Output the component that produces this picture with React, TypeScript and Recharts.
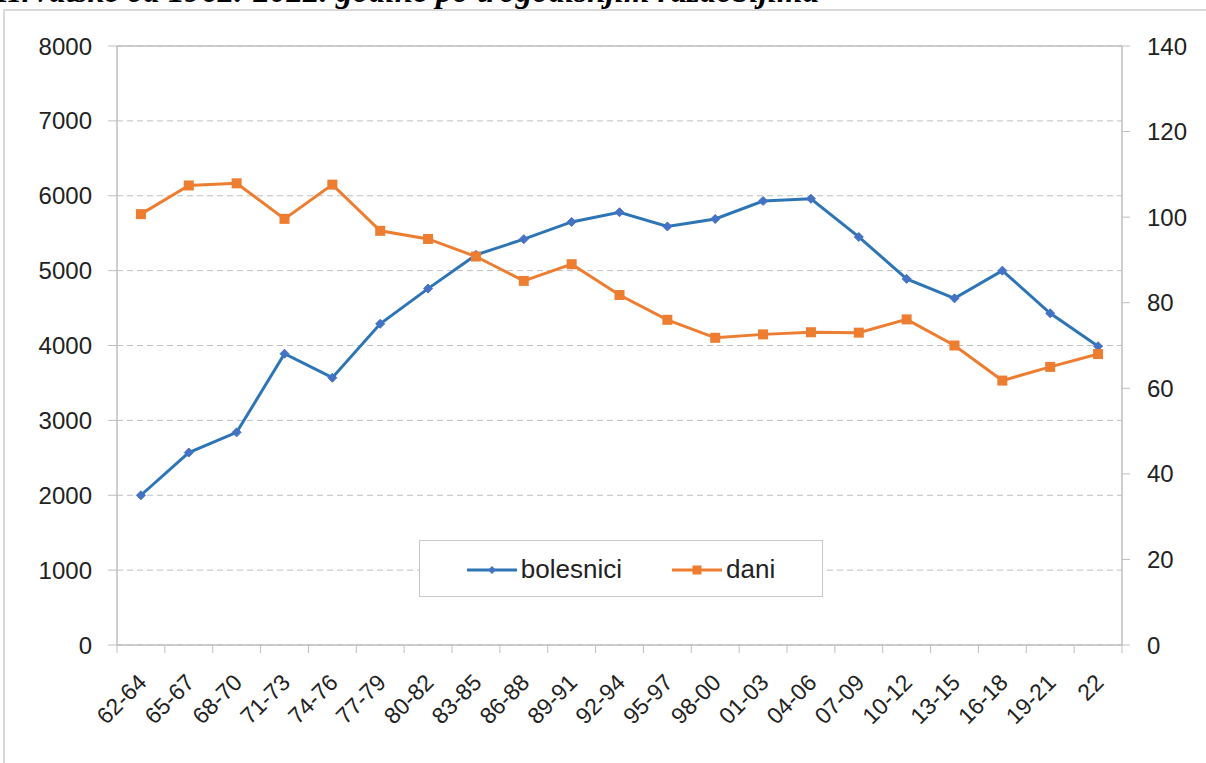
import React from "react";
import { LineChart, Line, XAxis, YAxis, CartesianGrid, Legend, ReferenceLine } from "recharts";

// razdoblja (trogodišta) i vrijednosti očitane s grafa
const periods = [
  "62-64", "65-67", "68-70", "71-73", "74-76", "77-79", "80-82", "83-85", "86-88", "89-91",
  "92-94", "95-97", "98-00", "01-03", "04-06", "07-09", "10-12", "13-15", "16-18", "19-21", "22",
];
const bolesnici = [
  2000, 2570, 2840, 3890, 3570, 4290, 4760, 5210, 5420, 5650,
  5780, 5590, 5690, 5930, 5960, 5450, 4890, 4630, 5000, 4430, 3990,
];
const dani = [
  100.7, 107.4, 107.9, 99.6, 107.6, 96.8, 94.9, 90.8, 85.1, 89.0,
  81.8, 76.0, 71.8, 72.6, 73.1, 73.0, 76.1, 70.0, 61.8, 65.0, 68.0,
];
const leftTicks = [0, 1000, 2000, 3000, 4000, 5000, 6000, 7000, 8000];
const rightTicks = [0, 20, 40, 60, 80, 100, 120, 140];

const data = periods.map((period, i) => ({ period, bolesnici: bolesnici[i], dani: dani[i] }));

const W = 1206;
const H = 763;
const PLOT_W = 1005;
const HALF = PLOT_W / periods.length / 2;
const BLUE = "#2E75B6";
const ORANGE = "#ED7D31";
const GRID = "#bfbfbf";
const FONT = "'Liberation Sans', Arial, sans-serif";

function PeriodTick(props: any) {
  const { x, y, payload, index } = props;
  const tx = x + 7;
  const ty = y + 39;
  return (
    <g>
      <line x1={x - HALF} x2={x - HALF} y1={y} y2={y + 8} stroke={GRID} />
      {index === periods.length - 1 && (
        <line x1={x + HALF} x2={x + HALF} y1={y} y2={y + 8} stroke={GRID} />
      )}
      <text
        x={tx}
        y={ty}
        transform={`rotate(-45, ${tx}, ${ty})`}
        textAnchor="end"
        fontSize={23}
        fontFamily={FONT}
        fill="#222"
      >
        {payload.value}
      </text>
    </g>
  );
}

function DiamondDot(props: any) {
  const { cx, cy, index } = props;
  if (cx == null || cy == null) return <g key={`b-${index}`} />;
  const r = 4.5;
  return (
    <path
      key={`b-${index}`}
      d={`M${cx},${cy - r}L${cx + r},${cy}L${cx},${cy + r}L${cx - r},${cy}Z`}
      fill="#4472C4"
      stroke="#4472C4"
      strokeWidth={1}
    />
  );
}

function SquareDot(props: any) {
  const { cx, cy, index } = props;
  if (cx == null || cy == null) return <g key={`d-${index}`} />;
  return <rect key={`d-${index}`} x={cx - 5} y={cy - 5} width={10} height={10} fill={ORANGE} />;
}

function LegendBox() {
  const item = (label: string, color: string, marker: React.ReactNode) => (
    <div style={{ display: "flex", alignItems: "center" }}>
      <svg width={50} height={12} style={{ marginRight: 4 }}>
        <line x1={0} x2={50} y1={6} y2={6} stroke={color} strokeWidth={3} />
        {marker}
      </svg>
      <span>{label}</span>
    </div>
  );
  return (
    <div
      style={{
        width: "100%",
        height: "100%",
        boxSizing: "border-box",
        border: "1.5px solid #c8c8c8",
        background: "#fff",
        display: "flex",
        alignItems: "center",
        justifyContent: "center",
        gap: 50,
        fontFamily: FONT,
        fontSize: 26,
        color: "#222",
        paddingTop: 2,
      }}
    >
      {item("bolesnici", BLUE, <path d="M25,2L29,6L25,10L21,6Z" fill="#4472C4" />)}
      {item("dani", ORANGE, <rect x={20.5} y={1.5} width={9} height={9} fill={ORANGE} />)}
    </div>
  );
}

export default function App() {
  return (
    <div style={{ position: "absolute", left: 0, top: 0, width: W, height: H, overflow: "hidden", background: "#fff" }}>
      <div
        style={{
          position: "absolute",
          left: -4,
          top: -26,
          fontFamily: "'Liberation Serif', 'Times New Roman', serif",
          fontWeight: "bold",
          fontStyle: "italic",
          fontSize: 33,
          whiteSpace: "nowrap",
          color: "#000",
          lineHeight: "34px",
        }}
      >
        Hrvatske od 1962.-2022. godine po trogodišnjim razdobljima
      </div>
      <div
        style={{
          position: "absolute",
          left: 3,
          top: 9,
          width: 1400,
          height: 1000,
          borderLeft: "2px solid #d9d9d9",
          borderTop: "2px solid #d9d9d9",
        }}
      />
      <div style={{ position: "absolute", left: 0, top: 0 }}>
        <LineChart width={W} height={H} data={data} margin={{ top: 46, right: 0, bottom: 0, left: 0 }}>
          <CartesianGrid yAxisId="l" vertical={false} stroke={GRID} strokeDasharray="6 4" />
          <ReferenceLine yAxisId="l" y={8000} stroke={GRID} strokeWidth={1.5} />
          <XAxis
            dataKey="period"
            interval={0}
            height={118}
            padding={{ left: HALF, right: HALF }}
            axisLine={{ stroke: GRID, strokeWidth: 1.5 }}
            tickLine={false}
            tickSize={0}
            tickMargin={0}
            tick={<PeriodTick />}
          />
          <YAxis
            yAxisId="l"
            width={117}
            domain={[0, 8000]}
            ticks={leftTicks}
            interval={0}
            axisLine={{ stroke: GRID, strokeWidth: 1.5 }}
            tickLine={{ stroke: GRID }}
            tickSize={9}
            tickMargin={16}
            tick={{ fontSize: 24, fontFamily: FONT, fill: "#222" }}
          />
          <YAxis
            yAxisId="r"
            orientation="right"
            width={84}
            domain={[0, 140]}
            ticks={rightTicks}
            interval={0}
            axisLine={{ stroke: GRID, strokeWidth: 1.5 }}
            tickLine={{ stroke: GRID }}
            tickSize={8}
            tickMargin={17}
            tick={{ fontSize: 24, fontFamily: FONT, fill: "#222" }}
          />
          <Legend
            layout="horizontal"
            verticalAlign="middle"
            align="center"
            wrapperStyle={{ left: 419, top: 540, width: 404, height: 57 }}
            content={() => <LegendBox />}
          />
          <Line
            yAxisId="l"
            dataKey="bolesnici"
            stroke={BLUE}
            strokeWidth={3}
            dot={DiamondDot}
            activeDot={false}
            isAnimationActive={false}
          />
          <Line
            yAxisId="r"
            dataKey="dani"
            stroke={ORANGE}
            strokeWidth={3}
            dot={SquareDot}
            activeDot={false}
            isAnimationActive={false}
          />
        </LineChart>
      </div>
    </div>
  );
}
